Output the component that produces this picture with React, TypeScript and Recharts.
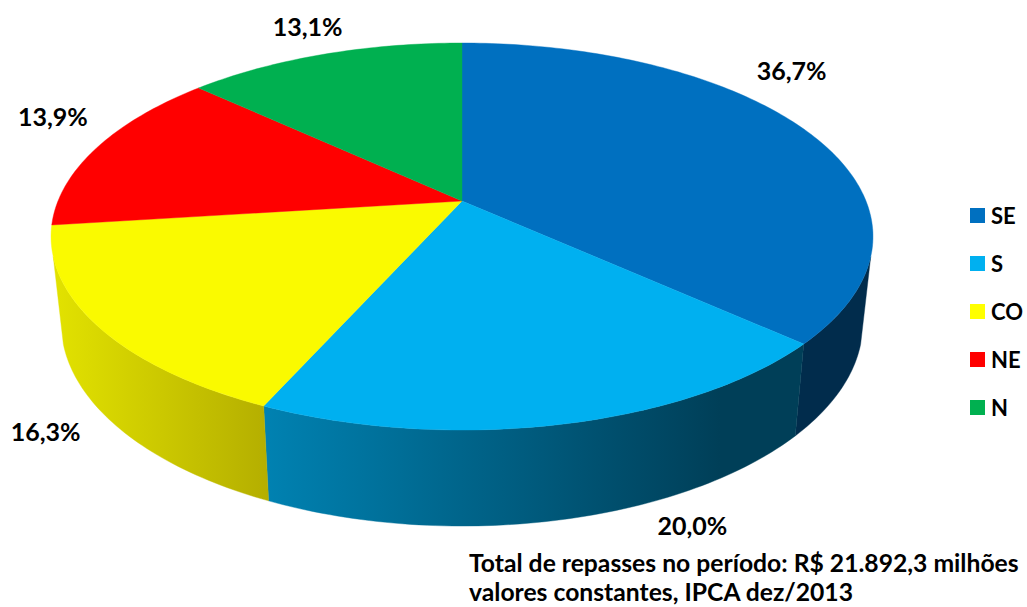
import React from "react";
import { PieChart, Pie, Legend } from "recharts";

const regions = ["SE", "S", "CO", "NE", "N"];
const shares = [36.7, 20.0, 16.3, 13.9, 13.1];
const topColors = ["#0070C0", "#00B0F0", "#FAFA00", "#FF0000", "#00B050"];
const legendColors = ["#0070C0", "#00B0F0", "#FFFF00", "#FF0000", "#00B050"];
const wallStops = [
  ["#012C4C", "#012C4C"],
  ["#0082B2", "#003F58"],
  ["#E2E200", "#B4AE00"],
  ["#A00000", "#A00000"],
  ["#006E32", "#006E32"],
];

const pieData = regions.map((name, i) => ({ name, value: shares[i], fill: topColors[i] }));
const wallData = regions.map((name, i) => ({ name, value: shares[i], fill: `url(#wall-${i})` }));

// nudges from the rim point of each slice to its percentage label
const labelOffsets = [
  [-14, -60],
  [129, 101],
  [-52, 105],
  [-45, -31],
  [-16, -28],
];

const FONT = "Lato, sans-serif";
const CX = 462;
const CY = 201;
const RX = 404;
const TILT = 0.1835;
const TOP_RY = 187;
const BOTTOM_RX = 394;
const BOTTOM_RY = 196;
const BOTTOM_Y = 286;
const WALL_FROM = -163.6;
const WALL_TO = -16.4;

const RAD = Math.PI / 180;

// perspective view of the flat disc
const topPoint = (deg: number) => {
  const u = Math.cos(deg * RAD);
  const v = -Math.sin(deg * RAD);
  const w = 1 - TILT * v;
  return [CX + (RX * u) / w, CY + (TOP_RY * v) / w];
};

const bottomPoint = (deg: number) => {
  const u = Math.cos(deg * RAD);
  const v = -Math.sin(deg * RAD);
  const w = 1 - TILT * v;
  return [CX + (BOTTOM_RX * u) / w, BOTTOM_Y + (BOTTOM_RY * v) / w];
};

const sweep = (from: number, to: number, fn: (d: number) => number[]) => {
  const steps = Math.max(2, Math.ceil(Math.abs(to - from)));
  const pts = [];
  for (let i = 0; i <= steps; i++) pts.push(fn(from + ((to - from) * i) / steps));
  return pts;
};

const toPath = (pts: number[][]) =>
  "M" + pts.map((p) => `${p[0].toFixed(2)},${p[1].toFixed(2)}`).join("L") + "Z";

const TopSlice = (props: any) => {
  const { startAngle, endAngle, fill } = props;
  const d = toPath([[CX, CY], ...sweep(startAngle, endAngle, topPoint)]);
  return <path d={d} fill={fill} stroke={fill} strokeWidth={0.4} />;
};

const WallSlice = (props: any) => {
  const { startAngle, endAngle, fill } = props;
  // angles run clockwise from 90 down to -270, only the front part of the rim shows
  const hi = Math.min(startAngle, WALL_TO);
  const lo = Math.max(endAngle, WALL_FROM);
  if (hi <= lo) return null;
  const d = toPath([...sweep(hi, lo, topPoint), ...sweep(lo, hi, bottomPoint)]);
  return <path d={d} fill={fill} stroke={fill} strokeWidth={0.4} />;
};

const renderLabel = (props: any) => {
  const { midAngle, index, value } = props;
  const [x, y] = topPoint(midAngle);
  const [dx, dy] = labelOffsets[index];
  return (
    <text
      x={x + dx}
      y={y + dy}
      textAnchor="middle"
      dominantBaseline="central"
      fontFamily={FONT}
      fontWeight={700}
      fontSize={25}
      fill="#000"
    >
      {value.toFixed(1).replace(".", ",")}%
    </text>
  );
};

const renderLegend = () => (
  <div style={{ fontFamily: FONT, fontWeight: 700, fontSize: 22, color: "#000" }}>
    {regions.map((name, i) => (
      <div key={name} style={{ display: "flex", alignItems: "center", height: 48 }}>
        <span style={{ width: 15, height: 15, background: legendColors[i], marginRight: 6 }} />
        {name}
      </div>
    ))}
  </div>
);

export default function App() {
  return (
    <div style={{ position: "absolute", left: 0, top: 0 }}>
      <PieChart width={1027} height={607} margin={{ top: 0, right: 0, bottom: 0, left: 0 }}>
        <defs>
          {wallStops.map((stops, i) => (
            <linearGradient
              key={i}
              id={`wall-${i}`}
              gradientUnits="userSpaceOnUse"
              x1={i === 1 ? 263 : 55}
              x2={i === 1 ? 720 : 270}
              y1={0}
              y2={0}
            >
              <stop offset="0%" stopColor={stops[0]} />
              <stop offset="100%" stopColor={stops[1]} />
            </linearGradient>
          ))}
        </defs>
        <Pie
          data={wallData}
          dataKey="value"
          nameKey="name"
          cx={CX}
          cy={CY}
          outerRadius={RX}
          startAngle={90}
          endAngle={-270}
          legendType="none"
          shape={WallSlice}
          isAnimationActive={false}
        />
        <Pie
          data={pieData}
          dataKey="value"
          nameKey="name"
          cx={CX}
          cy={CY}
          outerRadius={RX}
          startAngle={90}
          endAngle={-270}
          shape={TopSlice}
          label={renderLabel}
          labelLine={false}
          isAnimationActive={false}
        />
        <Legend
          layout="vertical"
          content={renderLegend}
          wrapperStyle={{ position: "absolute", left: 970, top: 191, width: 60 }}
        />
        <text x={469} y={572} fontFamily={FONT} fontWeight={700} fontSize={24.7} fill="#000">
          Total de repasses no período: R$ 21.892,3 milhões
        </text>
        <text x={469} y={601} fontFamily={FONT} fontWeight={700} fontSize={24.7} fill="#000">
          valores constantes, IPCA dez/2013
        </text>
      </PieChart>
    </div>
  );
}
